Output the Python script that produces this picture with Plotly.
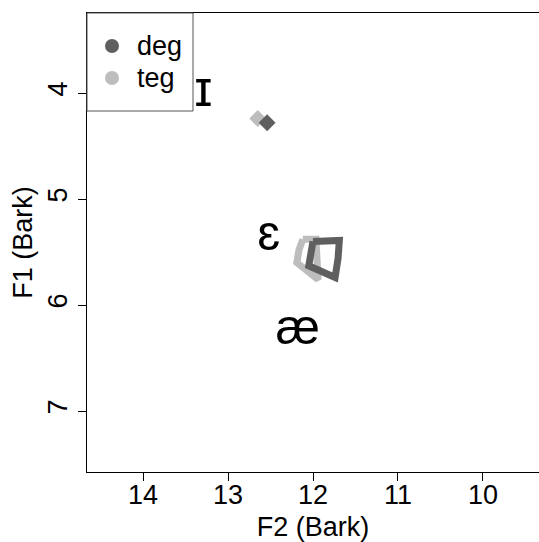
import plotly.graph_objects as go

# Vowel targets (F2, F1 in Bark) for /ɪ/ by context
ih_contexts = ["teg", "deg"]
ih_f2 = [12.65, 12.54]
ih_f1 = [4.24, 4.28]

# /ɛ/ formant trajectories (closed loops) by context
eh_teg_f2 = [12.12, 12.165, 12.19, 11.94, 11.965, 12.12]
eh_teg_f1 = [5.38, 5.48, 5.60, 5.76, 5.38, 5.38]
eh_deg_f2 = [12.00, 11.69, 11.705, 11.74, 12.05, 12.00]
eh_deg_f1 = [5.40, 5.39, 5.56, 5.74, 5.63, 5.40]

# Vowel category labels
vowel_labels = ["ɪ", "ɛ", "æ"]
label_f2 = [13.29, 12.52, 12.18]
label_f1 = [4.00, 5.36, 6.25]

# Axis ticks
x_ticks = [14, 13, 12, 11, 10]
y_ticks = [4, 5, 6, 7]

legend_names = ["deg", "teg"]
colors = {"deg": "#5f5f5f", "teg": "#bdbdbd"}

FONT = "Liberation Sans, Arial, sans-serif"

fig = go.Figure()

# /ɛ/ trajectories: light first, dark on top
fig.add_trace(go.Scatter(
    x=eh_teg_f2, y=eh_teg_f1, mode="lines", name="teg",
    line=dict(color=colors["teg"], width=7), showlegend=False,
))
fig.add_trace(go.Scatter(
    x=eh_deg_f2, y=eh_deg_f1, mode="lines", name="deg",
    line=dict(color=colors["deg"], width=7), showlegend=False,
))

# /ɪ/ points
for ctx, f2, f1 in zip(ih_contexts, ih_f2, ih_f1):
    fig.add_trace(go.Scatter(
        x=[f2], y=[f1], mode="markers", name=ctx,
        marker=dict(symbol="diamond", size=13, color=colors[ctx]),
        showlegend=False,
    ))

# Vowel labels
fig.add_trace(go.Scatter(
    x=label_f2, y=label_f1, mode="text", text=vowel_labels,
    textposition="middle center",
    textfont=dict(family=FONT, size=50, color="black"),
    showlegend=False,
))

# Boxed legend in the top-left corner of the plot region
plot_w, plot_h = 452, 459
shapes = [dict(
    type="rect", xref="paper", yref="paper",
    x0=0, x1=106 / plot_w, y0=1 - 98 / plot_h, y1=1,
    line=dict(color="#555555", width=1), fillcolor="white", layer="above",
)]
annotations = []
for i, name in enumerate(legend_names):
    yc = 1 - (33 + 32 * i) / plot_h
    shapes.append(dict(
        type="circle", xref="paper", yref="paper",
        xsizemode="pixel", ysizemode="pixel",
        xanchor=25 / plot_w, yanchor=yc,
        x0=-7, x1=7, y0=-7, y1=7,
        fillcolor=colors[name], line=dict(width=0), layer="above",
    ))
    annotations.append(dict(
        xref="paper", yref="paper", x=48 / plot_w, y=yc,
        xanchor="left", yanchor="middle", showarrow=False,
        text=name, font=dict(family=FONT, size=27, color="black"),
    ))

fig.update_layout(
    width=539, height=542,
    margin=dict(l=87, r=0, t=13, b=70),
    paper_bgcolor="white", plot_bgcolor="white",
    font=dict(family=FONT, size=27, color="black"),
    showlegend=False,
    shapes=shapes,
    annotations=annotations,
    xaxis=dict(
        range=[14.66, 9.34], tickvals=x_ticks, ticktext=[str(t) for t in x_ticks],
        ticks="outside", ticklen=8, tickcolor="black",
        showline=True, linecolor="black", linewidth=1, mirror=True,
        showgrid=False, zeroline=False, tickfont=dict(size=27),
        ticklabelstandoff=-9,
        title=dict(text="F2 (Bark)", font=dict(size=27), standoff=8),
    ),
    yaxis=dict(
        range=[7.575, 3.245], tickvals=y_ticks, ticktext=[str(t) for t in y_ticks],
        ticks="outside", ticklen=8, tickcolor="black", tickangle=-90,
        showline=True, linecolor="black", linewidth=1,
        showgrid=False, zeroline=False, tickfont=dict(size=27),
        title=dict(text="F1 (Bark)", font=dict(size=27), standoff=2),
    ),
)

fig.write_html("out.html")
